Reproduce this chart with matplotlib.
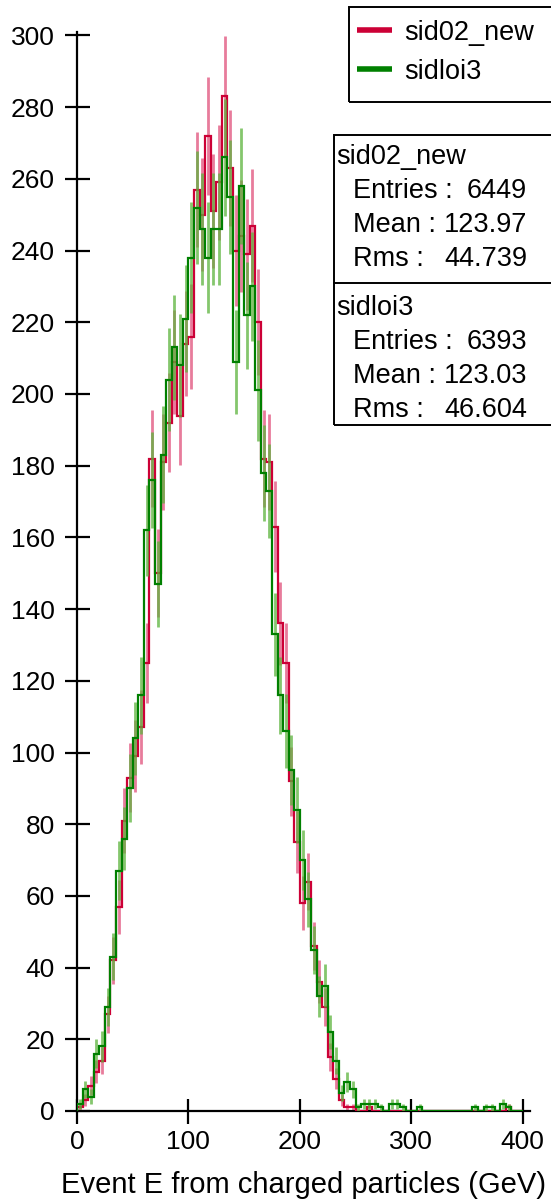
import numpy as np
import matplotlib
matplotlib.use("Agg")
import matplotlib.pyplot as plt
from matplotlib.patches import Rectangle
from matplotlib.lines import Line2D

plt.rcParams['font.family'] = ['Liberation Sans', 'DejaVu Sans']

# 80 bins of 5 GeV between 0 and 400 GeV
edges = np.linspace(0, 400, 81)

sid02_new = [1, 3, 7, 11, 14, 27, 42, 57, 81, 93,
             99, 107, 125, 182, 150, 181, 192, 209, 194, 214,
             216, 257, 250, 272, 251, 259, 283, 263, 240, 244,
             239, 247, 220, 182, 181, 163, 136, 125, 92, 75,
             58, 64, 46, 36, 29, 15, 9, 3, 1, 1,
             0, 0, 1, 0, 0, 0, 0, 0, 0, 0,
             0, 0, 0, 0, 0, 0, 0, 0, 0, 0,
             0, 0, 0, 0, 0, 0, 0, 1, 0, 0]

sidloi3 = [2, 6, 4, 16, 18, 29, 43, 67, 76, 90,
           104, 116, 162, 176, 147, 183, 204, 213, 208, 221,
           238, 252, 246, 238, 246, 246, 266, 255, 209, 258,
           222, 230, 201, 178, 173, 133, 116, 106, 95, 84,
           70, 59, 45, 32, 35, 22, 14, 5, 8, 6,
           1, 2, 2, 2, 1, 0, 2, 2, 1, 0,
           0, 1, 0, 0, 0, 0, 0, 0, 0, 0,
           0, 1, 0, 1, 1, 0, 2, 1, 0, 0]

names = ['sid02_new', 'sidloi3']
colors = ['#cc0036', '#008000']
err_colors = ['#e0507a', '#5cb43c']
stats = [('6449', '123.97', '44.739'), ('6393', '123.03', '46.604')]

W, H = 551, 1202
fig = plt.figure(figsize=(W / 100, H / 100), dpi=100)

def fx(x):
    return x / W

def fy(y):
    return 1 - y / H

ax = fig.add_axes([fx(77), fy(1111), 407 * 1.114 / W, 301 * 3.585 / H])

centers = 0.5 * (edges[:-1] + edges[1:])
for k, vals in enumerate([sid02_new, sidloi3]):
    v = np.array(vals, dtype=float)
    m = v > 0
    ax.vlines(centers[m], v[m] - np.sqrt(v[m]), v[m] + np.sqrt(v[m]),
              color=err_colors[k], lw=2, alpha=0.75, zorder=2 + 2 * k)
    ax.stairs(v, edges, color=colors[k], lw=1.6, zorder=3 + 2 * k)

ax.set_xlim(0, 407)
ax.set_ylim(0, 301)
ax.set_xticks([0, 100, 200, 300, 400])
ax.set_yticks(np.arange(0, 301, 20))
for s in ['top', 'right']:
    ax.spines[s].set_visible(False)
for s in ['left', 'bottom']:
    ax.spines[s].set_linewidth(1.6)
ax.tick_params(direction='inout', length=18, width=1.6, labelsize=19)
ax.tick_params(axis='y', pad=7)
ax.tick_params(axis='x', pad=5)
ax.set_xlabel('Event E from charged particles (GeV)', fontsize=21, labelpad=12)

# legend box
fig.add_artist(Rectangle((fx(349), fy(101.7)), fx(215), 95 / H, transform=fig.transFigure,
                         fill=False, ec='black', lw=1.4, clip_on=False))
for k, yy in enumerate([30, 69]):
    fig.add_artist(Line2D([fx(357), fx(392)], [fy(yy), fy(yy)], transform=fig.transFigure,
                          color=colors[k], lw=4, solid_capstyle='butt'))
    fig.text(fx(404), fy(yy + 3), names[k], fontsize=19.5, va='center', ha='left')

# statistics boxes
fig.add_artist(Rectangle((fx(334), fy(425)), fx(230), 290 / H, transform=fig.transFigure,
                         fill=False, ec='black', lw=1.4, clip_on=False))
fig.add_artist(Line2D([fx(334), fx(560)], [fy(283.3), fy(283.3)], transform=fig.transFigure,
                      color='black', lw=1.4))
for k, y0 in enumerate([157, 308]):
    fig.text(fx(336), fy(y0), names[k], fontsize=19.5, va='center', ha='left')
    for j, lab in enumerate(['Entries :', 'Mean :', 'Rms :']):
        yy = y0 + 34 * (j + 1)
        fig.text(fx(353), fy(yy), lab, fontsize=19.5, va='center', ha='left')
        fig.text(fx(527), fy(yy), stats[k][j], fontsize=19.5, va='center', ha='right')

fig.savefig('out.png', dpi=100)
